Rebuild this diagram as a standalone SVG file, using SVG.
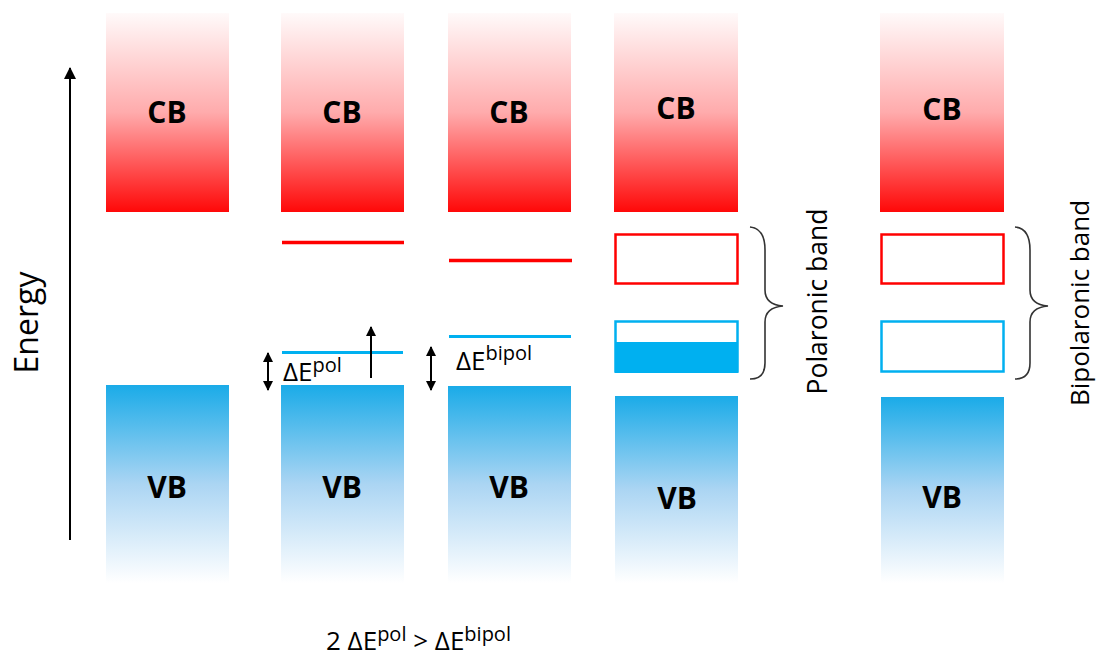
<svg xmlns="http://www.w3.org/2000/svg" width="1096" height="658" viewBox="0 0 1096 658">
<defs>
<linearGradient id="gCB" x1="0" y1="0" x2="0" y2="1">
<stop offset="0" stop-color="#fffafa"/>
<stop offset="0.5" stop-color="#ffabac"/>
<stop offset="1" stop-color="#ff0808"/>
</linearGradient>
<linearGradient id="gVB" x1="0" y1="0" x2="0" y2="1">
<stop offset="0" stop-color="#1aabe8"/>
<stop offset="0.5" stop-color="#abd5f3"/>
<stop offset="1" stop-color="#ffffff"/>
</linearGradient>
<marker id="ahBig" viewBox="0 0 12 12" refX="11" refY="6" markerWidth="12" markerHeight="12" markerUnits="userSpaceOnUse" orient="auto-start-reverse">
<path d="M0,0 L12,6 L0,12 Z" fill="#000"/>
</marker>
<marker id="ah" viewBox="0 0 10 10" refX="9" refY="5" markerWidth="10" markerHeight="11" markerUnits="userSpaceOnUse" orient="auto-start-reverse">
<path d="M0,0 L10,5 L0,10 Z" fill="#000"/>
</marker>
<style>
.lbl{font-family:"Open Sans","Liberation Sans",sans-serif;font-weight:bold;font-size:30px;fill:#000;text-anchor:middle}
.txt{font-family:"Open Sans","Liberation Sans",sans-serif;fill:#000}
.cb{fill:url(#gCB)}
.vb{fill:url(#gVB)}
.red{stroke:#ff0000;stroke-width:3.5;fill:none}
.blue{stroke:#00b0f0;stroke-width:3;fill:none}
.rbox{stroke:#ff0000;stroke-width:2.5;fill:#fff}
.bbox{stroke:#00b0f0;stroke-width:2.5;fill:#fff}
.arr{stroke:#000;stroke-width:2;fill:none}
.brace{stroke:#333;stroke-width:1.6;fill:none}
</style>
</defs>
<rect width="1096" height="658" fill="#fff"/>

<g id="col1">
<rect class="cb" x="106" y="13" width="123" height="199"/>
<text class="lbl" x="167" y="123">CB</text>
<rect class="vb" x="106" y="385" width="123" height="198"/>
<text class="lbl" x="167" y="498">VB</text>
</g>

<g id="col2">
<rect class="cb" x="281" y="13" width="123" height="199"/>
<text class="lbl" x="342" y="123">CB</text>
<line class="red" x1="282" y1="242.5" x2="404" y2="242.5"/>
<line class="blue" x1="282" y1="352.5" x2="403" y2="352.5"/>
<rect class="vb" x="281" y="385" width="123" height="198"/>
<text class="lbl" x="342" y="498">VB</text>
<text class="txt" x="283" y="381" font-size="26">ΔE<tspan font-size="20" dy="-9">pol</tspan></text>
</g>

<g id="col3">
<rect class="cb" x="448" y="13" width="123" height="199"/>
<text class="lbl" x="509" y="123">CB</text>
<line class="red" x1="449" y1="260.5" x2="572" y2="260.5"/>
<line class="blue" x1="449" y1="336.5" x2="571" y2="336.5"/>
<rect class="vb" x="448" y="386" width="123" height="197"/>
<text class="lbl" x="509" y="498">VB</text>
<text class="txt" x="456" y="370" font-size="26">ΔE<tspan font-size="20" dy="-10">bipol</tspan></text>
</g>

<g id="col4">
<rect class="cb" x="614" y="13" width="124" height="199"/>
<text class="lbl" x="676" y="119">CB</text>
<rect class="rbox" x="615.5" y="234.5" width="122" height="49"/>
<rect class="bbox" x="615.5" y="321.5" width="122" height="50"/>
<rect x="615" y="342" width="123" height="31" fill="#00b0f0"/>
<rect class="vb" x="615" y="396" width="123" height="187"/>
<text class="lbl" x="677" y="509">VB</text>
<text class="txt" font-size="26.5" text-anchor="middle" transform="translate(827 301.5) rotate(-90)">Polaronic band</text>
</g>

<g id="col5">
<rect class="cb" x="880" y="13" width="124" height="199"/>
<text class="lbl" x="942" y="120">CB</text>
<rect class="rbox" x="881.5" y="234.5" width="122" height="49"/>
<rect class="bbox" x="881.5" y="321.5" width="122" height="50"/>
<rect class="vb" x="881" y="397" width="123" height="186"/>
<text class="lbl" x="942" y="508">VB</text>
<text class="txt" font-size="26" text-anchor="middle" transform="translate(1089 303) rotate(-90)">Bipolaronic band</text>
</g>

<g id="energy-axis">
<text class="txt" font-size="32" text-anchor="middle" transform="translate(38 322.5) rotate(-90)">Energy</text>
</g>

<g id="formula">
<text class="txt" x="326" y="650" font-size="26">2 ΔE<tspan font-size="20" dy="-9">pol</tspan><tspan dy="9"> &gt; ΔE</tspan><tspan font-size="20" dy="-9">bipol</tspan></text>
</g>

<g id="connectors">
<line class="arr" stroke-width="2.5" x1="70" y1="540" x2="70" y2="68" marker-end="url(#ahBig)"/>
<line class="arr" x1="268" y1="353" x2="268" y2="390" marker-start="url(#ah)" marker-end="url(#ah)"/>
<line class="arr" x1="371" y1="378" x2="371" y2="327" marker-end="url(#ah)"/>
<line class="arr" x1="431" y1="347" x2="431" y2="390" marker-start="url(#ah)" marker-end="url(#ah)"/>
<path class="brace" d="M750,227 C761,228 765,236 765,250 L765,290 C765,300 771,305 783,306 C771,307 765,312 765,322 L765,363 C765,373 761,379 750,379"/>
<path class="brace" d="M1015,227 C1026,228 1030,236 1030,250 L1030,290 C1030,300 1036,305 1048,306 C1036,307 1030,312 1030,322 L1030,363 C1030,373 1026,379 1015,379"/>
</g>
</svg>
